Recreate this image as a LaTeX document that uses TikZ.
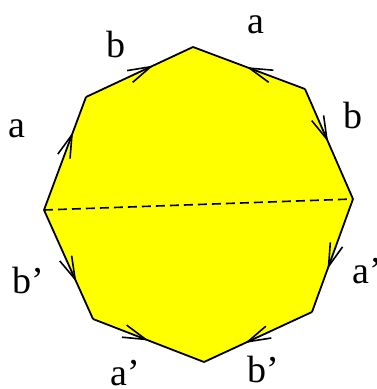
\documentclass[tikz,border=0pt]{standalone}
\usepackage{fontspec}
\setmainfont{Liberation Serif}
\usetikzlibrary{arrows.meta,decorations.markings}
\definecolor{octyellow}{RGB}{255,255,0}
\tikzset{
  edge/.style={line width=1.8pt, line join=miter},
  midarrow/.style={postaction={decorate, decoration={markings,
    mark=at position #1 with {\arrow[line width=1.6pt]{Straight Barb[length=23pt,width=13pt]}}}}},
  lbl/.style={anchor=base, inner sep=0pt, font=\fontsize{38}{38}\selectfont},
}
\begin{document}
\begin{tikzpicture}[x=1pt,y=-1pt]
\useasboundingbox (0,0) rectangle (377,389);
\coordinate (T)  at (193,47);
\coordinate (UR) at (305,89);
\coordinate (R)  at (353,199);
\coordinate (LR) at (312,312);
\coordinate (B)  at (204,362);
\coordinate (LL) at (93,319);
\coordinate (L)  at (44,210);
\coordinate (UL) at (86,97);
\fill[octyellow] (T) -- (UR) -- (R) -- (LR) -- (B) -- (LL) -- (L) -- (UL) -- cycle;
\draw[line width=1.6pt, dash pattern=on 9pt off 5pt] (L) -- (R);
\draw[edge, midarrow=0.63] (UL) -- (T);
\draw[edge, midarrow=0.52] (UR) -- (T);
\draw[edge, midarrow=0.48] (UR) -- (R);
\draw[edge, midarrow=0.69] (L) -- (UL);
\draw[edge, midarrow=0.66] (L) -- (LL);
\draw[edge, midarrow=0.50] (LL) -- (B);
\draw[edge, midarrow=0.62] (R) -- (LR);
\draw[edge, midarrow=0.62] (LR) -- (B);
\node[lbl] (la1) at (255.5,33) {a};
\node[lbl] (lb1) at (116,57) {b};
\node[lbl] (la2) at (16.5,137) {a};
\node[lbl] (lb2) at (353,128) {b};
\node[lbl] (lb3) at (28.5,293) {b’};
\node[lbl] (la3) at (367,283) {a’};
\node[lbl] (la4) at (125,385) {a’};
\node[lbl] (lb4) at (263,382) {b’};
\end{tikzpicture}
\end{document}
